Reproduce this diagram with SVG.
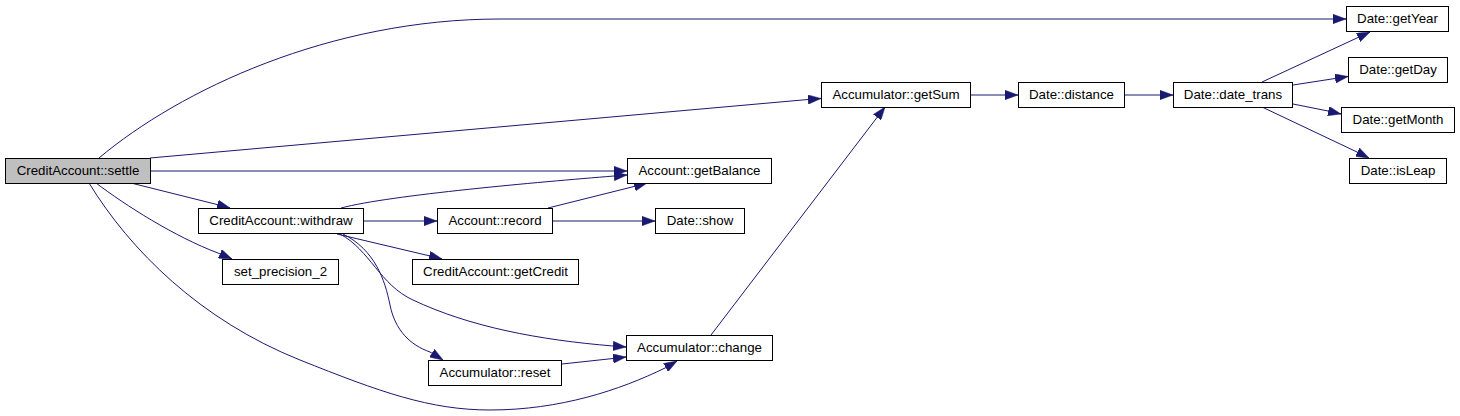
<svg xmlns="http://www.w3.org/2000/svg" width="1460" height="416" viewBox="0 0 1460 416">
<style>
.n rect{fill:#ffffff;stroke:#000000;stroke-width:1}
.n.root rect{fill:#bfbfbf}
.n text{font-family:"Liberation Sans",Arial,Helvetica,sans-serif;font-size:13.3px;text-anchor:middle;fill:#000000}
.e path{fill:none;stroke:#191970;stroke-width:1;marker-end:url(#ah)}
</style>
<defs>
<marker id="ah" markerUnits="userSpaceOnUse" viewBox="0 0 13 9.4" refX="13" refY="4.7" markerWidth="13" markerHeight="9.4" orient="auto">
<path d="M0,0 L13,4.7 L0,9.4 z" fill="#191970" stroke="#191970" stroke-width="0.5"/>
</marker>
</defs>
<rect width="1460" height="416" fill="#ffffff"/>
<g id="connectors" class="e">
<path d="M99,158 C180,90 330,19 500,19 L1333,19 L1346,19"/>
<path d="M150,158 L808,99.5 L821,98.5"/>
<path d="M151,171 L614,171 L627,171"/>
<path d="M341,208 C390,195 540,182 614,176 L627,175"/>
<path d="M131,183 L217,204.5 L230,208"/>
<path d="M96,183 C125,205 175,237 218,253 L232,259"/>
<path d="M89,183 C130,250 200,320 300,360 C380,392 430,410 490,410 C560,410 620,390 665,368 L677,361"/>
<path d="M364,221 L424,221 L437,221"/>
<path d="M548,208 L634,186.5 L647,183"/>
<path d="M553,221 L642,221 L655,221"/>
<path d="M337,234 L428,255.5 L442,259"/>
<path d="M340,234 C370,250 380,285 413,300 C470,327 540,340 613,346 L626,347"/>
<path d="M343,234 C375,250 385,280 390,305 C395,330 410,345 430,352 L443,360"/>
<path d="M562,364 L613,358.5 L626,357"/>
<path d="M711,335 L877,117.5 L885,107"/>
<path d="M971,95 L1005,95 L1018,95"/>
<path d="M1125,95 L1160,95 L1173,95"/>
<path d="M1262,82 L1358,37.5 L1370,32"/>
<path d="M1293,85 L1335,78.5 L1348,76.5"/>
<path d="M1293,104 L1328,111 L1341,114"/>
<path d="M1262,107 L1357,152 L1369,158"/>
</g>
<g id="node-settle" class="n root"><rect x="5.5" y="158.5" width="145" height="25"/><text x="78" y="175">CreditAccount::settle</text></g>
<g id="node-withdraw" class="n"><rect x="198.5" y="208.5" width="165" height="25"/><text x="281" y="225">CreditAccount::withdraw</text></g>
<g id="node-set_precision_2" class="n"><rect x="222.5" y="259.5" width="116" height="25"/><text x="280.5" y="276">set_precision_2</text></g>
<g id="node-getBalance" class="n"><rect x="627.5" y="158.5" width="144" height="25"/><text x="699.5" y="175">Account::getBalance</text></g>
<g id="node-record" class="n"><rect x="437.5" y="208.5" width="115" height="25"/><text x="495" y="225">Account::record</text></g>
<g id="node-show" class="n"><rect x="655.5" y="208.5" width="89" height="25"/><text x="700" y="225">Date::show</text></g>
<g id="node-getCredit" class="n"><rect x="412.5" y="259.5" width="166" height="25"/><text x="495.5" y="276">CreditAccount::getCredit</text></g>
<g id="node-change" class="n"><rect x="626.5" y="335.5" width="146" height="25"/><text x="699.5" y="352">Accumulator::change</text></g>
<g id="node-reset" class="n"><rect x="428.5" y="360.5" width="133" height="25"/><text x="495" y="377">Accumulator::reset</text></g>
<g id="node-getSum" class="n"><rect x="821.5" y="82.5" width="149" height="25"/><text x="896" y="99">Accumulator::getSum</text></g>
<g id="node-distance" class="n"><rect x="1018.5" y="82.5" width="106" height="25"/><text x="1071.5" y="99">Date::distance</text></g>
<g id="node-date_trans" class="n"><rect x="1173.5" y="82.5" width="119" height="25"/><text x="1233" y="99">Date::date_trans</text></g>
<g id="node-getYear" class="n"><rect x="1346.5" y="6.5" width="102" height="25"/><text x="1397.5" y="23">Date::getYear</text></g>
<g id="node-getDay" class="n"><rect x="1348.5" y="57.5" width="99" height="25"/><text x="1398" y="74">Date::getDay</text></g>
<g id="node-getMonth" class="n"><rect x="1341.5" y="107.5" width="113" height="25"/><text x="1398" y="124">Date::getMonth</text></g>
<g id="node-isLeap" class="n"><rect x="1349.5" y="158.5" width="97" height="25"/><text x="1398" y="175">Date::isLeap</text></g>
</svg>
